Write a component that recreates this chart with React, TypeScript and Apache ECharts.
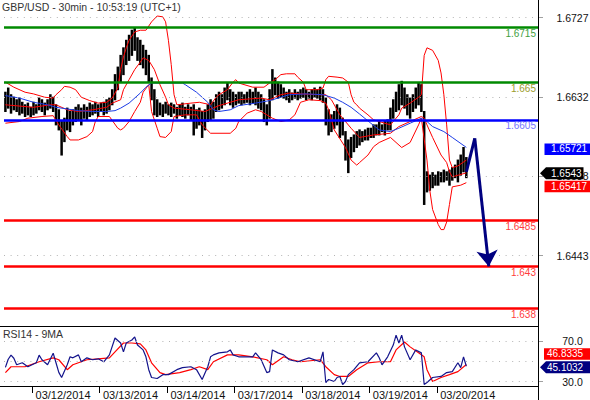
import React, { useEffect, useRef } from 'react';
import * as echarts from 'echarts';

// ---------- data ----------
const titleText = 'GBP/USD - 30min - 10:53:19 (UTC+1)';
const rsiTitle = 'RSI14 - 9MA';
const dayLabels = ['03/12/2014', '03/13/2014', '03/14/2014', '03/17/2014', '03/18/2014', '03/19/2014', '03/20/2014'];
const dayStartSlots = [10, 34, 58, 82, 106, 130, 154];
const slotCount = 190;

// hourly price ranges (high / low), slot 0 .. 164
const barHigh = [
  1.6638, 1.6643, 1.6635, 1.6632, 1.6629, 1.6631, 1.6626, 1.6623, 1.6625, 1.6620,
  1.6626, 1.6623, 1.6631, 1.6629, 1.6625, 1.6629, 1.6635, 1.6632, 1.6623, 1.6617,
  1.6603, 1.6607, 1.6619, 1.6615, 1.6617, 1.6620, 1.6623, 1.6619, 1.6623, 1.6620,
  1.6625, 1.6623, 1.6626, 1.6623, 1.6625, 1.6626, 1.6629, 1.6631, 1.6641, 1.6659,
  1.6668, 1.6682, 1.6691, 1.6700, 1.6706, 1.6712, 1.6715, 1.6703, 1.6700, 1.6694,
  1.6688, 1.6682, 1.6655, 1.6641, 1.6629, 1.6625, 1.6623, 1.6626, 1.6623, 1.6625,
  1.6623, 1.6620, 1.6623, 1.6625, 1.6620, 1.6623, 1.6620, 1.6623, 1.6617, 1.6619,
  1.6615, 1.6617, 1.6623, 1.6629, 1.6626, 1.6635, 1.6638, 1.6635, 1.6643, 1.6649,
  1.6641, 1.6638, 1.6635, 1.6638, 1.6638, 1.6635, 1.6638, 1.6641, 1.6638, 1.6643,
  1.6638, 1.6635, 1.6629, 1.6623, 1.6641, 1.6665, 1.6655, 1.6650, 1.6647, 1.6643,
  1.6638, 1.6641, 1.6637, 1.6641, 1.6638, 1.6641, 1.6643, 1.6641, 1.6638, 1.6641,
  1.6643, 1.6641, 1.6644, 1.6641, 1.6631, 1.6617, 1.6611, 1.6615, 1.6623, 1.6619,
  1.6607, 1.6591, 1.6581, 1.6584, 1.6587, 1.6591, 1.6593, 1.6591, 1.6593, 1.6595,
  1.6595, 1.6599, 1.6599, 1.6603, 1.6599, 1.6603, 1.6605, 1.6619, 1.6629, 1.6638,
  1.6647, 1.6651, 1.6643, 1.6635, 1.6631, 1.6635, 1.6643, 1.6649, 1.6647, 1.6615,
  1.6543, 1.6539, 1.6542, 1.6539, 1.6543, 1.6542, 1.6545, 1.6543, 1.6545, 1.6548,
  1.6551, 1.6557, 1.6563, 1.6572, 1.6560,
];
const barLow = [
  1.6615, 1.6619, 1.6613, 1.6617, 1.6615, 1.6611, 1.6613, 1.6609, 1.6611, 1.6609,
  1.6611, 1.6613, 1.6617, 1.6615, 1.6611, 1.6617, 1.6619, 1.6615, 1.6599, 1.6593,
  1.6563, 1.6579, 1.6593, 1.6591, 1.6599, 1.6603, 1.6605, 1.6599, 1.6607, 1.6605,
  1.6609, 1.6611, 1.6613, 1.6609, 1.6615, 1.6611, 1.6613, 1.6617, 1.6623, 1.6629,
  1.6641, 1.6650, 1.6659, 1.6671, 1.6676, 1.6682, 1.6688, 1.6676, 1.6671, 1.6667,
  1.6659, 1.6650, 1.6629, 1.6611, 1.6609, 1.6611, 1.6609, 1.6613, 1.6611, 1.6609,
  1.6613, 1.6607, 1.6611, 1.6609, 1.6607, 1.6611, 1.6605, 1.6587, 1.6595, 1.6599,
  1.6584, 1.6593, 1.6603, 1.6605, 1.6607, 1.6615, 1.6617, 1.6619, 1.6623, 1.6629,
  1.6623, 1.6620, 1.6623, 1.6625, 1.6623, 1.6625, 1.6626, 1.6623, 1.6625, 1.6623,
  1.6619, 1.6617, 1.6603, 1.6599, 1.6607, 1.6629, 1.6635, 1.6631, 1.6632, 1.6631,
  1.6629, 1.6626, 1.6629, 1.6631, 1.6629, 1.6631, 1.6632, 1.6629, 1.6631, 1.6629,
  1.6632, 1.6631, 1.6629, 1.6626, 1.6599, 1.6587, 1.6591, 1.6595, 1.6599, 1.6584,
  1.6587, 1.6557, 1.6542, 1.6560, 1.6567, 1.6572, 1.6575, 1.6579, 1.6581, 1.6581,
  1.6584, 1.6584, 1.6587, 1.6587, 1.6591, 1.6587, 1.6593, 1.6593, 1.6607, 1.6615,
  1.6617, 1.6623, 1.6619, 1.6611, 1.6607, 1.6615, 1.6619, 1.6623, 1.6615, 1.6504,
  1.6519, 1.6521, 1.6524, 1.6527, 1.6527, 1.6531, 1.6531, 1.6533, 1.6527, 1.6533,
  1.6536, 1.6531, 1.6539, 1.6543, 1.6536,
];

// indicator lines: [slot, price]
const bbUpper = [
  [0, 1.6650], [3, 1.6644], [7, 1.6638], [10, 1.6636], [14, 1.6632], [17, 1.6631], [18, 1.6635], [20, 1.6641],
  [21, 1.6645], [23, 1.6644], [25, 1.6641], [27, 1.6632], [30, 1.6628], [33, 1.6625], [36, 1.6626], [38, 1.6631],
  [40, 1.6643], [41, 1.6665], [42, 1.6680], [43, 1.6691], [44, 1.6700], [46, 1.6710], [48, 1.6712], [50, 1.6712],
  [52, 1.6722], [54, 1.6729], [56, 1.6728], [57, 1.6722], [58, 1.6700], [59, 1.6671], [60, 1.6635], [61, 1.6623],
  [66, 1.6625], [69, 1.6626], [73, 1.6623], [75, 1.6632], [76, 1.6635], [79, 1.6641], [81, 1.6650], [82, 1.6653],
  [83, 1.6649], [88, 1.6644], [92, 1.6644], [94, 1.6649], [96, 1.6653], [98, 1.6659], [100, 1.6660], [103, 1.6660],
  [104, 1.6656], [106, 1.6650], [107, 1.6641], [111, 1.6641], [113, 1.6643], [114, 1.6653], [115, 1.6657], [118, 1.6656],
  [120, 1.6655], [122, 1.6650], [123, 1.6635], [124, 1.6626], [125, 1.6623], [126, 1.6619], [129, 1.6611], [131, 1.6605],
  [133, 1.6603], [137, 1.6599], [140, 1.6611], [141, 1.6619], [144, 1.6625], [147, 1.6632], [148, 1.6635], [149, 1.6682],
  [150, 1.6691], [152, 1.6688], [154, 1.6676], [155, 1.6661], [156, 1.6635], [157, 1.6599], [158, 1.6557], [159, 1.6548],
  [161, 1.6550], [164, 1.6557],
];
const bbMiddle = [
  [0, 1.6623], [10, 1.6620], [16, 1.6623], [18, 1.6623], [22, 1.6617], [26, 1.6615], [31, 1.6617], [36, 1.6620],
  [38, 1.6625], [41, 1.6629], [42, 1.6641], [44, 1.6653], [46, 1.6665], [48, 1.6674], [49, 1.6679], [51, 1.6676],
  [53, 1.6665], [55, 1.6647], [57, 1.6632], [58, 1.6623], [60, 1.6619], [66, 1.6617], [71, 1.6615], [76, 1.6622],
  [80, 1.6626], [83, 1.6629], [91, 1.6631], [94, 1.6629], [98, 1.6635], [101, 1.6637], [105, 1.6636], [112, 1.6635],
  [114, 1.6635], [116, 1.6629], [119, 1.6611], [123, 1.6595], [126, 1.6584], [131, 1.6587], [137, 1.6589], [140, 1.6597],
  [144, 1.6603], [148, 1.6609], [149, 1.6607], [150, 1.6599], [152, 1.6584], [155, 1.6563], [157, 1.6554], [158, 1.6543],
  [159, 1.6537], [164, 1.65417],
];
const bbLower = [
  [0, 1.6601], [5, 1.6603], [8, 1.6607], [13, 1.6609], [17, 1.6610], [19, 1.6599], [22, 1.6585], [23, 1.6581],
  [26, 1.6581], [29, 1.6585], [31, 1.6591], [32, 1.6603], [33, 1.6609], [37, 1.6609], [40, 1.6595], [41, 1.6593],
  [42, 1.6595], [44, 1.6603], [46, 1.6615], [48, 1.6626], [49, 1.6638], [51, 1.6647], [52, 1.6615], [54, 1.6595],
  [55, 1.6585], [57, 1.6584], [59, 1.6591], [60, 1.6609], [64, 1.6611], [68, 1.6611], [70, 1.6599], [73, 1.6589],
  [76, 1.6589], [80, 1.6589], [82, 1.6595], [83, 1.6603], [86, 1.6613], [89, 1.6617], [91, 1.6615], [93, 1.6611],
  [95, 1.6607], [98, 1.6603], [101, 1.6605], [103, 1.6611], [105, 1.6626], [108, 1.6629], [112, 1.6628], [114, 1.6625],
  [115, 1.6617], [117, 1.6593], [121, 1.6572], [123, 1.6557], [125, 1.6551], [126, 1.6554], [129, 1.6563], [131, 1.6573],
  [133, 1.6578], [137, 1.6584], [141, 1.6572], [144, 1.6578], [147, 1.6599], [148, 1.6607], [150, 1.6557], [151, 1.6521],
  [152, 1.6498], [154, 1.6480], [155, 1.6474], [156, 1.6474], [157, 1.6483], [158, 1.6504], [159, 1.6525], [162, 1.6527],
  [164, 1.6530],
];
const maBlue = [
  [0, 1.6634], [5, 1.6631], [10, 1.6626], [15, 1.6623], [18, 1.6620], [22, 1.6618], [26, 1.6616], [31, 1.6615],
  [36, 1.6615], [39, 1.6616], [41, 1.6619], [44, 1.6625], [48, 1.6637], [50, 1.6644], [52, 1.6649], [56, 1.6649],
  [63, 1.6649], [64, 1.6647], [68, 1.6638], [72, 1.6626], [74, 1.6617], [76, 1.6615], [80, 1.6617], [83, 1.6622],
  [89, 1.6625], [94, 1.6628], [97, 1.6631], [101, 1.6635], [107, 1.6636], [113, 1.6635], [117, 1.6631], [120, 1.6626],
  [123, 1.6620], [126, 1.6612], [130, 1.6601], [133, 1.6593], [137, 1.6591], [140, 1.6595], [144, 1.6601], [148, 1.6607],
  [150, 1.6603], [152, 1.6597], [156, 1.6591], [159, 1.6584], [164, 1.65721],
];

// RSI14 and its 9MA: [slot, value]
const rsiLine = [
  [0, 44], [1, 52], [2, 56], [3, 53], [4, 46.5], [6, 48.5], [8, 44.6], [11, 48.5], [12, 56], [13, 51.5], [15, 46.5],
  [17, 58], [18, 48.5], [19, 39], [20, 34], [22, 46.5], [23, 54.4], [24, 53.4], [26, 56.3], [27, 49.5], [29, 53.4],
  [31, 51.5], [33, 52.4], [35, 49.5], [37, 56.3], [39, 72.9], [41, 68], [42, 59.3], [43, 68], [45, 71], [46, 74],
  [47, 66], [49, 61.2], [50, 54.4], [51, 41.7], [52, 34], [54, 33], [56, 36.8], [58, 36.8], [61, 41.7], [63, 43.7],
  [66, 44.6], [68, 41.7], [70, 32], [72, 44.6], [73, 54.4], [74, 56.3], [76, 58.3], [79, 59.3], [80, 61.2], [81, 56.3],
  [83, 54.4], [86, 54.4], [88, 54.4], [89, 58.3], [91, 51.5], [93, 38.8], [94, 39.8], [95, 61.2], [97, 58.3], [99, 56.3],
  [101, 51.5], [104, 49.5], [108, 53.4], [112, 49.5], [113, 59.3], [114, 29], [115, 32], [117, 30], [118, 34], [119, 35],
  [120, 27], [121, 30], [122, 36.8], [124, 41.7], [126, 48.5], [129, 49.5], [132, 58.3], [133, 53.4], [134, 46.5],
  [136, 54.4], [138, 66], [139, 75.8], [140, 68], [141, 75.8], [142, 64.2], [144, 51.5], [146, 61.2], [148, 58.3],
  [149, 27], [150, 29], [152, 34], [155, 35], [157, 38.8], [159, 39.8], [161, 48.5], [162, 43.7], [163, 54.4], [164, 45.1032],
];
const rsiMA = [
  [0, 38.8], [2, 44.6], [7, 44.6], [12, 49.5], [17, 53.4], [19, 51.5], [22, 41.7], [24, 46.5], [29, 51.5], [33, 52.4],
  [37, 53.4], [39, 59.3], [42, 68], [45, 68], [48, 67.1], [50, 61.2], [52, 48.5], [55, 38.8], [57, 36.8], [62, 38.8],
  [66, 41.7], [69, 44.6], [72, 41.7], [74, 49.5], [79, 56.3], [83, 56.3], [88, 54.4], [93, 51.5], [95, 46.5], [99, 54.4],
  [102, 51.5], [105, 49.5], [112, 51.5], [114, 44.6], [117, 36.8], [119, 35], [122, 35], [125, 41.7], [129, 48.5],
  [133, 49.5], [137, 49.5], [139, 61.2], [142, 69], [144, 64.2], [147, 58.3], [149, 54.4], [150, 41.7], [152, 30],
  [155, 34], [158, 36.8], [161, 39.8], [164, 46.8335],
];

const levels = [1.6715, 1.665, 1.6605, 1.6485, 1.643, 1.638];
const levelColors = ['#008a00', '#008a00', '#0000ff', '#ff0000', '#ff0000', '#ff0000'];
const levelTextColors = ['#3f9f3f', '#9c9c2c', '#7474ff', '#ff3c3c', '#ff3c3c', '#ff3c3c'];
const priceTicks = [1.6443, 1.6538, 1.6632, 1.6727];
const rsiTicks = [30, 70];
const rsiGridValues = [30, 50, 70];
const projectionRise = [[164, 1.6543], [167, 1.6583]];
const projectionFall = [[167, 1.6583], [172, 1.643]];

const tagMA = 1.65721;
const tagPrice = 1.6543;
const tagBand = 1.65417;
const tagRsi = 45.1032;
const tagRsiMA = 46.8335;

// ---------- chart ----------
const FONT = '"Liberation Sans", Arial, Helvetica, sans-serif';
const categories = Array.from({ length: slotCount }, (_, i) => 's' + i);

function gridLines(values: number[]) {
  return {
    silent: true,
    symbol: 'none',
    precision: 5,
    animation: false,
    lineStyle: { color: '#b4b4b4', width: 1, type: [1, 5.6] },
    label: { show: false },
    emphasis: { disabled: true },
    data: values.map((v) => ({ yAxis: v })),
  };
}

export default function App() {
  const ref = useRef<HTMLDivElement>(null);

  useEffect(() => {
    if (!ref.current) return;
    const chart = echarts.init(ref.current, null, { renderer: 'svg' });
    const isDayStart = (i: number) => dayStartSlots.includes(i);

    chart.setOption({
      animation: false,
      backgroundColor: '#ffffff',
      textStyle: { fontFamily: FONT },
      grid: [
        { left: 4, right: 52, top: 0, height: 326, outerBoundsMode: 'none' },
        { left: 4, right: 52, top: 326, height: 61, outerBoundsMode: 'none' },
      ],
      xAxis: [
        { type: 'category', gridIndex: 0, data: categories, boundaryGap: true, show: false },
        {
          type: 'category',
          gridIndex: 1,
          data: categories,
          boundaryGap: true,
          axisLine: { show: false },
          axisTick: { show: true, interval: (i: number) => isDayStart(i), length: 6, lineStyle: { color: '#000' } },
          axisLabel: {
            show: true,
            interval: (i: number) => isDayStart(i),
            formatter: (_v: string, i: number) => {
              const d = dayStartSlots.indexOf(i);
              return d >= 0 ? dayLabels[d] : '';
            },
            align: 'left',
            padding: [0, 0, 0, 2],
            margin: 2,
            fontSize: 11,
            color: '#111',
            fontFamily: FONT,
          },
          splitLine: { show: false },
        },
      ],
      yAxis: [
        {
          type: 'value',
          gridIndex: 0,
          position: 'right',
          min: 1.63589,
          max: 1.67481,
          axisLine: { show: false },
          splitLine: { show: false },
          axisTick: { show: true, customValues: priceTicks, length: 5, lineStyle: { color: '#a0a0a0' } },
          axisLabel: {
            customValues: priceTicks,
            formatter: (v: number) => v.toFixed(4),
            align: 'center',
            margin: 34.5,
            fontSize: 10.5,
            color: '#111',
            fontFamily: FONT,
          },
        },
        {
          type: 'value',
          gridIndex: 1,
          position: 'right',
          min: 24.6,
          max: 84.8,
          axisLine: { show: false },
          splitLine: { show: false },
          axisTick: { show: true, customValues: rsiTicks, length: 5, lineStyle: { color: '#a0a0a0' } },
          axisLabel: {
            customValues: rsiTicks,
            formatter: (v: number) => v.toFixed(1),
            align: 'center',
            margin: 34.5,
            fontSize: 10.5,
            color: '#111',
            fontFamily: FONT,
          },
        },
      ],
      series: [
        {
          type: 'line',
          xAxisIndex: 0,
          yAxisIndex: 0,
          data: [],
          z: 1,
          markLine: gridLines(priceTicks),
        },
        {
          type: 'custom',
          xAxisIndex: 0,
          yAxisIndex: 0,
          z: 2,
          data: barHigh.map((h, i) => [i, h, barLow[i]]),
          encode: { x: 0, y: [1, 2] },
          renderItem: (_p: any, api: any) => {
            const k = api.value(0);
            const hi = api.coord([k, api.value(1)]);
            const lo = api.coord([k, api.value(2)]);
            return {
              type: 'line',
              shape: { x1: hi[0], y1: hi[1] - 0.5, x2: lo[0], y2: lo[1] + 0.5 },
              style: { stroke: '#000', lineWidth: 2.5 },
            };
          },
        },
        ...[bbUpper, bbMiddle, bbLower].map((d) => ({
          type: 'line',
          xAxisIndex: 0,
          yAxisIndex: 0,
          data: d,
          z: 3,
          symbol: 'none',
          lineStyle: { color: '#ff0000', width: 1 },
        })),
        {
          type: 'line',
          xAxisIndex: 0,
          yAxisIndex: 0,
          data: maBlue,
          z: 3,
          symbol: 'none',
          lineStyle: { color: '#1c3ce6', width: 1 },
        },
        {
          type: 'line',
          xAxisIndex: 0,
          yAxisIndex: 0,
          data: [],
          z: 4,
          markLine: {
            silent: true,
            symbol: 'none',
            precision: 5,
            animation: false,
            emphasis: { disabled: true },
            data: levels.map((v, i) => ({
              yAxis: v,
              lineStyle: { color: levelColors[i], width: 2.5, type: 'solid' },
              label: {
                show: true,
                position: 'insideEndBottom',
                formatter: () => String(levels[i]),
                color: levelTextColors[i],
                fontSize: 10,
                fontFamily: FONT,
                distance: [2, 1],
              },
            })),
          },
        },
        {
          type: 'lines',
          coordinateSystem: 'cartesian2d',
          xAxisIndex: 0,
          yAxisIndex: 0,
          z: 5,
          symbol: ['none', 'none'],
          lineStyle: { color: '#000080', width: 3, opacity: 1 },
          data: [{ coords: projectionRise }],
        },
        {
          type: 'lines',
          coordinateSystem: 'cartesian2d',
          xAxisIndex: 0,
          yAxisIndex: 0,
          z: 5,
          symbol: ['none', 'arrow'],
          symbolSize: [11, 16],
          lineStyle: { color: '#000080', width: 3, opacity: 1 },
          data: [{ coords: projectionFall }],
        },
        {
          type: 'line',
          xAxisIndex: 1,
          yAxisIndex: 1,
          data: [],
          z: 1,
          markLine: gridLines(rsiGridValues),
        },
        {
          type: 'line',
          xAxisIndex: 1,
          yAxisIndex: 1,
          data: rsiMA,
          z: 3,
          symbol: 'none',
          lineStyle: { color: '#ff0000', width: 1.2 },
        },
        {
          type: 'line',
          xAxisIndex: 1,
          yAxisIndex: 1,
          data: rsiLine,
          z: 4,
          symbol: 'none',
          lineStyle: { color: '#14148c', width: 1.2 },
        },
      ],
    });

    const py = (v: number) => chart.convertToPixel({ yAxisIndex: 0 }, v) as number;
    const ry = (v: number) => chart.convertToPixel({ yAxisIndex: 1 }, v) as number;

    const yMA = py(tagMA) + 1.5;
    const yPx = py(tagPrice) + 1.5;
    const yBand = yPx + 13;
    const yR = ry(tagRsi) + 1;
    const yRMA = yR - 13.5;

    const tagText = (x: number, y: number, text: string) => ({
      type: 'text',
      x,
      y,
      z: 101,
      style: { text, fill: '#ffffff', font: `10px ${FONT}`, textVerticalAlign: 'middle', textAlign: 'left' },
    });
    const pointer = (y: number, right: number, color: string) => ({
      type: 'polygon',
      z: 100,
      shape: { points: [[540, y], [546, y - 6], [right, y - 6], [right, y + 6], [546, y + 6]] },
      style: { fill: color },
    });
    const box = (y: number, left: number, color: string) => ({
      type: 'rect',
      z: 100,
      shape: { x: left, y: y - 5.5, width: 590 - left, height: 11.5 },
      style: { fill: color },
    });

    chart.setOption({
      graphic: [
        { type: 'line', z: 90, shape: { x1: 538.5, y1: 0, x2: 538.5, y2: 400 }, style: { stroke: '#000', lineWidth: 1 } },
        { type: 'line', z: 90, shape: { x1: 0, y1: 326.5, x2: 538.5, y2: 326.5 }, style: { stroke: '#000', lineWidth: 1 } },
        { type: 'line', z: 90, shape: { x1: 0, y1: 386.5, x2: 538.5, y2: 386.5 }, style: { stroke: '#000', lineWidth: 1 } },
        {
          type: 'text', x: 2, y: 7, z: 90,
          style: { text: titleText, fill: '#333', font: `10.5px ${FONT}`, textVerticalAlign: 'middle' },
        },
        {
          type: 'text', x: 3, y: 334, z: 90,
          style: { text: rsiTitle, fill: '#333', font: `10.5px ${FONT}`, textVerticalAlign: 'middle' },
        },
        box(yMA, 544.5, '#0000ff'),
        tagText(551, yMA, tagMA.toFixed(5)),
        pointer(yPx, 583.5, '#000000'),
        tagText(551, yPx, tagPrice.toFixed(4)),
        box(yBand, 544.5, '#ff0000'),
        tagText(551, yBand, tagBand.toFixed(5)),
        box(yRMA, 544, '#ff0000'),
        tagText(547, yRMA, tagRsiMA.toFixed(4)),
        pointer(yR, 590, '#000080'),
        tagText(547, yR, tagRsi.toFixed(4)),
      ],
    });

    return () => chart.dispose();
  }, []);

  return (
    <div
      ref={ref}
      style={{ position: 'absolute', left: 0, top: 0, width: 590, height: 400, background: '#fff' }}
    />
  );
}
